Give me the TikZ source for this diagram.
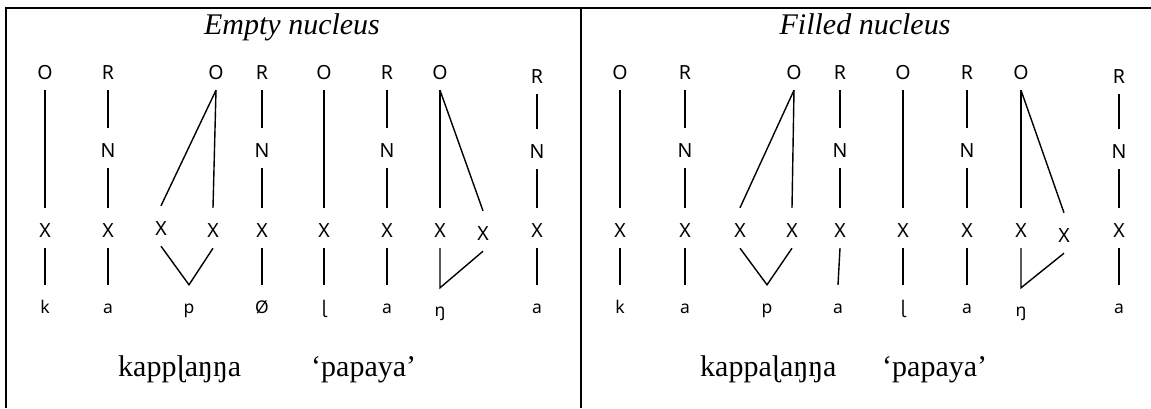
\documentclass[tikz,border=0pt]{standalone}
\usepackage{fontspec}
\setmainfont{Liberation Serif}
\newfontfamily\labfont{Noto Sans}
\begin{document}
\begin{tikzpicture}[x=1pt,y=-1pt,
  lab/.style={font=\labfont\fontsize{19.5}{22}\selectfont, anchor=base, inner sep=0pt, text height=29pt, text depth=11pt},
  seg/.style={font=\labfont\fontsize{17.5}{20}\selectfont, anchor=base, inner sep=0pt, text height=28pt, text depth=11pt},
  edge/.style={line width=1.4pt},
  rule/.style={line width=2pt},
  heading/.style={font=\fontsize{30}{34}\selectfont\itshape, anchor=base, inner sep=0pt},
  word/.style={font=\fontsize{30}{34}\selectfont, anchor=base west, inner sep=0pt},
  meaning/.style={font=\fontsize{30}{34}\selectfont, anchor=base west, inner sep=0pt}]
\useasboundingbox (0,0) rectangle (1151,408);

% table frame
\draw[rule] (5,8) -- (1151,8);
\draw[rule] (6,7) -- (6,408);
\draw[rule] (581,8) -- (581,408);

% ---------- Empty nucleus ----------
\node[heading] (aT) at (292,34) {Empty nucleus};
\node[lab] (aO1) at (45,79) {O};
\node[lab] (aR1) at (108,79) {R};
\node[lab] (aO2) at (216,79) {O};
\node[lab] (aR2) at (262,79) {R};
\node[lab] (aO3) at (324,79) {O};
\node[lab] (aR3) at (387,79) {R};
\node[lab] (aO4) at (440,79) {O};
\node[lab] (aR4) at (537,83) {R};
\node[lab] (aN1) at (108,157) {N};
\node[lab] (aN2) at (262,157) {N};
\node[lab] (aN3) at (387,157) {N};
\node[lab] (aN4) at (537,158) {N};
\node[lab] (aX1) at (45,237) {X};
\node[lab] (aX2) at (108,237) {X};
\node[lab] (aX3) at (161,235) {X};
\node[lab] (aX4) at (213,237) {X};
\node[lab] (aX5) at (262,237) {X};
\node[lab] (aX6) at (324,237) {X};
\node[lab] (aX7) at (387,237) {X};
\node[lab] (aX8) at (440,237) {X};
\node[lab] (aX9) at (483,240) {X};
\node[lab] (aX10) at (537,237) {X};
\node[seg] (as1) at (45,313) {k};
\node[seg] (as2) at (108,313) {a};
\node[seg] (as3) at (189,313) {p};
\node[seg] (as4) at (262,313) {Ø};
\node[seg] (as5) at (324,313) {ɭ};
\node[seg] (as6) at (387,313) {a};
\node[seg] (as7) at (440,316) {ŋ};
\node[seg] (as8) at (537,313) {a};
\node[word] (aW) at (118,376) {kappɭaŋŋa};
\node[meaning] (aG) at (311,376) {‘papaya’};

\draw[edge] (aO1.south) -- (aX1.north);
\draw[edge] (aR1.south) -- (aN1.north);
\draw[edge] (aN1.south) -- (aX2.north);
\draw[edge] (aO2.south) -- (aX3.north);
\draw[edge] (aO2.south) -- (aX4.north);
\draw[edge] (aR2.south) -- (aN2.north);
\draw[edge] (aN2.south) -- (aX5.north);
\draw[edge] (aO3.south) -- (aX6.north);
\draw[edge] (aR3.south) -- (aN3.north);
\draw[edge] (aN3.south) -- (aX7.north);
\draw[edge] (aO4.south) -- (aX8.north);
\draw[edge] (aO4.south) -- (aX9.north);
\draw[edge] (aR4.south) -- (aN4.north);
\draw[edge] (aN4.south) -- (aX10.north);
\draw[edge] (aX1.south) -- (as1.north);
\draw[edge] (aX2.south) -- (as2.north);
\draw[edge] (aX3.south) -- (as3.north) -- (aX4.south);
\draw[edge] (aX5.south) -- (as4.north);
\draw[edge] (aX6.south) -- (as5.north);
\draw[edge] (aX7.south) -- (as6.north);
\draw[edge] (aX8.south) -- (as7.north) -- (aX9.south);
\draw[edge] (aX10.south) -- (as8.north);

% ---------- Filled nucleus ----------
\node[heading] (bT) at (865,34) {Filled nucleus};
\node[lab] (bO1) at (620,79) {O};
\node[lab] (bR1) at (685,79) {R};
\node[lab] (bO2) at (794,79) {O};
\node[lab] (bR2) at (840,79) {R};
\node[lab] (bO3) at (903,79) {O};
\node[lab] (bR3) at (967,79) {R};
\node[lab] (bO4) at (1021,79) {O};
\node[lab] (bR4) at (1119,83) {R};
\node[lab] (bN1) at (685,157) {N};
\node[lab] (bN2) at (840,157) {N};
\node[lab] (bN3) at (967,157) {N};
\node[lab] (bN4) at (1119,158) {N};
\node[lab] (bX1) at (620,237) {X};
\node[lab] (bX2) at (685,237) {X};
\node[lab] (bX3) at (740,237) {X};
\node[lab] (bX4) at (792,237) {X};
\node[lab] (bX5) at (840,237) {X};
\node[lab] (bX6) at (903,237) {X};
\node[lab] (bX7) at (967,237) {X};
\node[lab] (bX8) at (1021,237) {X};
\node[lab] (bX9) at (1064,242) {X};
\node[lab] (bX10) at (1119,237) {X};
\node[seg] (bs1) at (620,313) {k};
\node[seg] (bs2) at (685,313) {a};
\node[seg] (bs3) at (767,313) {p};
\node[seg] (bs4) at (838,313) {a};
\node[seg] (bs5) at (903,313) {ɭ};
\node[seg] (bs6) at (967,313) {a};
\node[seg] (bs7) at (1021,316) {ŋ};
\node[seg] (bs8) at (1119,313) {a};
\node[word] (bW) at (700,376) {kappaɭaŋŋa};
\node[meaning] (bG) at (882,376) {‘papaya’};

\draw[edge] (bO1.south) -- (bX1.north);
\draw[edge] (bR1.south) -- (bN1.north);
\draw[edge] (bN1.south) -- (bX2.north);
\draw[edge] (bO2.south) -- (bX3.north);
\draw[edge] (bO2.south) -- (bX4.north);
\draw[edge] (bR2.south) -- (bN2.north);
\draw[edge] (bN2.south) -- (bX5.north);
\draw[edge] (bO3.south) -- (bX6.north);
\draw[edge] (bR3.south) -- (bN3.north);
\draw[edge] (bN3.south) -- (bX7.north);
\draw[edge] (bO4.south) -- (bX8.north);
\draw[edge] (bO4.south) -- (bX9.north);
\draw[edge] (bR4.south) -- (bN4.north);
\draw[edge] (bN4.south) -- (bX10.north);
\draw[edge] (bX1.south) -- (bs1.north);
\draw[edge] (bX2.south) -- (bs2.north);
\draw[edge] (bX3.south) -- (bs3.north) -- (bX4.south);
\draw[edge] (bX5.south) -- (bs4.north);
\draw[edge] (bX6.south) -- (bs5.north);
\draw[edge] (bX7.south) -- (bs6.north);
\draw[edge] (bX8.south) -- (bs7.north) -- (bX9.south);
\draw[edge] (bX10.south) -- (bs8.north);
\end{tikzpicture}
\end{document}
